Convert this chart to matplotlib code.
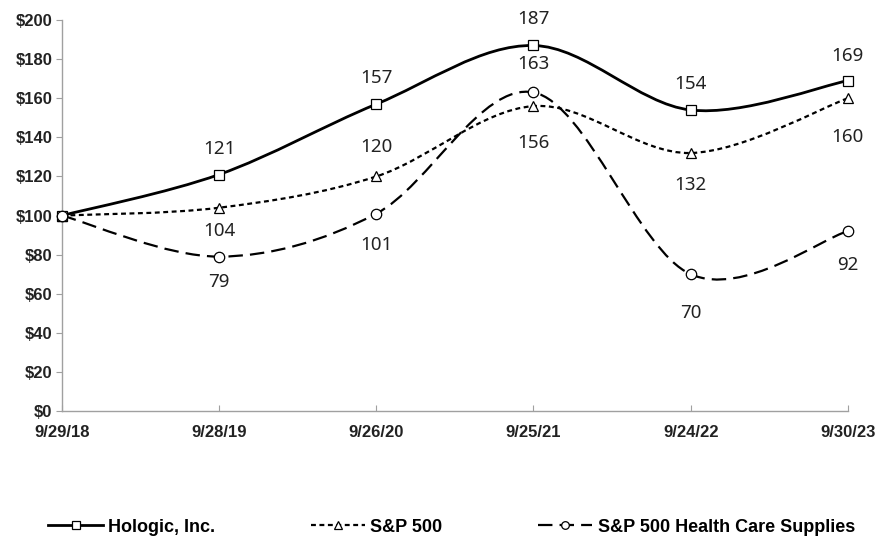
import matplotlib
matplotlib.use("Agg")
import matplotlib.pyplot as plt
from matplotlib.path import Path
from matplotlib.patches import PathPatch
from matplotlib.lines import Line2D

dates = ["9/29/18", "9/28/19", "9/26/20", "9/25/21", "9/24/22", "9/30/23"]
hologic = [100, 121, 157, 187, 154, 169]
sp500 = [100, 104, 120, 156, 132, 160]
hc_supplies = [100, 79, 101, 163, 70, 92]

# data label offset in pixels: + above, - below, 0 = no label
hologic_lbl = [0, 26, 26, 26, 26, 25]
sp500_lbl = [0, -23, 29, -37, -32, -39]
hc_lbl = [0, -25, -31, 28, -39, -34]


def smooth_path(xs, ys):
    # Excel-style smoothed line: cubic bezier with catmull-rom control points
    pts = list(zip(xs, ys))
    n = len(pts)
    verts = [pts[0]]
    codes = [Path.MOVETO]
    for i in range(n - 1):
        p0 = pts[i - 1] if i > 0 else pts[i]
        p1 = pts[i]
        p2 = pts[i + 1]
        p3 = pts[i + 2] if i + 2 < n else pts[i + 1]
        c1 = (p1[0] + (p2[0] - p0[0]) / 6, p1[1] + (p2[1] - p0[1]) / 6)
        c2 = (p2[0] - (p3[0] - p1[0]) / 6, p2[1] - (p3[1] - p1[1]) / 6)
        verts += [c1, c2, p2]
        codes += [Path.CURVE4] * 3
    return Path(verts, codes)


fig = plt.figure(figsize=(8.79, 5.37), dpi=100)
ax = fig.add_axes([0.0705, 0.2346, 0.894, 0.728])

x = list(range(len(dates)))
series = [
    ("Hologic, Inc.", hologic, hologic_lbl, "-", None, 2.0, "s"),
    ("S&P 500", sp500, sp500_lbl, "--", (0, (2.2, 1.6)), 1.6, "^"),
    ("S&P 500 Health Care Supplies", hc_supplies, hc_lbl, "--", (0, (6.5, 3.2)), 1.6, "o"),
]

handles = []
for name, vals, offs, ls, dash, lw, mk in series:
    patch = PathPatch(smooth_path(x, vals), facecolor="none", edgecolor="black",
                      linewidth=lw, linestyle=dash if dash else ls, zorder=2)
    patch.set_clip_on(False)
    ax.add_patch(patch)
    ax.plot(x, vals, linestyle="none", marker=mk, markersize=7.5, clip_on=False,
            markerfacecolor="white", markeredgecolor="black", markeredgewidth=0.9, zorder=3)
    for xi, v, off in zip(x, vals, offs):
        if off == 0:
            continue
        ax.annotate(str(v), (xi, v), xytext=(0, off * 0.72), textcoords="offset points",
                    ha="center", va="center", fontsize=13.5, family="Noto Sans", color="#222222")
    handles.append(Line2D([], [], color="black", linewidth=lw,
                          linestyle=dash if dash else ls, marker=mk, markersize=5.5,
                          markerfacecolor="white", markeredgecolor="black", markeredgewidth=0.9))

ax.set_xlim(0, len(dates) - 1)
ax.set_ylim(0, 200)
ax.set_yticks(range(0, 201, 20))
ax.set_yticklabels([f"${v}" for v in range(0, 201, 20)])
ax.set_xticks(x)
ax.set_xticklabels(dates)

for side in ["top", "right"]:
    ax.spines[side].set_visible(False)
for side in ["left", "bottom"]:
    ax.spines[side].set_color("#a0a0a0")
    ax.spines[side].set_linewidth(1.0)

ax.tick_params(axis="y", direction="out", length=4, color="#a0a0a0", pad=3)
ax.tick_params(axis="x", direction="in", length=4, color="#a0a0a0", pad=10)
for lab in ax.get_xticklabels() + ax.get_yticklabels():
    lab.set_fontfamily("Liberation Sans")
    lab.set_fontweight("bold")
    lab.set_fontsize(12)
    lab.set_color("#222222")

leg = fig.legend(handles, [s[0] for s in series], loc="lower center", ncol=3,
                 bbox_to_anchor=(0.514, -0.028), frameon=False, handlelength=3.0,
                 columnspacing=5.3, handletextpad=0.3,
                 prop={"family": "Liberation Sans", "weight": "bold", "size": 13})

fig.savefig("out.png", dpi=100)
